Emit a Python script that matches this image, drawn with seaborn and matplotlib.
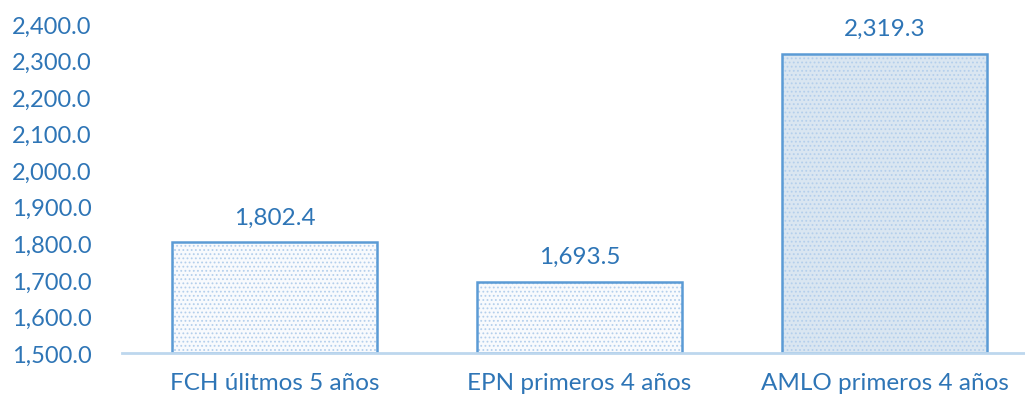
import matplotlib
matplotlib.use("Agg")
import matplotlib.pyplot as plt
import matplotlib.colors as mcolors
import seaborn as sns
import pandas as pd

categories = ["FCH úlitmos 5 años", "EPN primeros 4 años", "AMLO primeros 4 años"]
values = [1802.4, 1693.5, 2319.3]
y_ticks = [1500, 1600, 1700, 1800, 1900, 2000, 2100, 2200, 2300, 2400]

text_blue = "#2E75B6"
edge_blue = "#5B9BD5"
axis_blue = "#BDD7EE"
hatch_blue = "#B4CFEC"
fills = ["#F7FAFE", "#F7FAFE", "#D6E6F5"]

sns.set_style("white")
plt.rcParams["font.family"] = ["Lato", "DejaVu Sans"]
plt.rcParams["hatch.linewidth"] = 0.8

df = pd.DataFrame({"cat": categories, "val": values})

fig = plt.figure(figsize=(10.25, 4.02), dpi=100)
ax = fig.add_axes([122 / 1025, 48 / 402, 915 / 1025, 329 / 402])

sns.barplot(data=df, x="cat", y="val", hue="cat", palette=fills, legend=False,
            width=0.67, ax=ax)

# bars start at the 1,500 baseline, as in the original chart
for bar in ax.patches:
    bar.set_y(1500)
    bar.set_height(bar.get_height() - 1500)
    bar.set_edgecolor(edge_blue)
    bar.set_linewidth(1.8)
    bar.set_hatch("....")
    # lighter dots than the outline
    if hasattr(bar, "set_hatchcolor"):
        bar.set_hatchcolor(hatch_blue)
    else:
        bar._hatch_color = mcolors.to_rgba(hatch_blue)

for i, v in enumerate(values):
    ax.text(i, v + 70, f"{v:,.1f}", ha="center", va="center",
            fontsize=17.5, color=text_blue)

ax.set_ylim(1500, 2400)
ax.set_yticks(y_ticks)
ax.set_yticklabels([f"{t:,.1f}" for t in y_ticks], fontsize=17, color=text_blue)
ax.set_xlim(-0.5, 2.5)
ax.tick_params(axis="y", length=0, pad=22)
ax.tick_params(axis="x", length=0, pad=14, labelsize=17.5, labelcolor=text_blue)
ax.set_xlabel("")
ax.set_ylabel("")

for s in ["left", "right", "top"]:
    ax.spines[s].set_visible(False)
ax.spines["bottom"].set_color(axis_blue)
ax.spines["bottom"].set_linewidth(2)

fig.savefig("out.png", dpi=100)
